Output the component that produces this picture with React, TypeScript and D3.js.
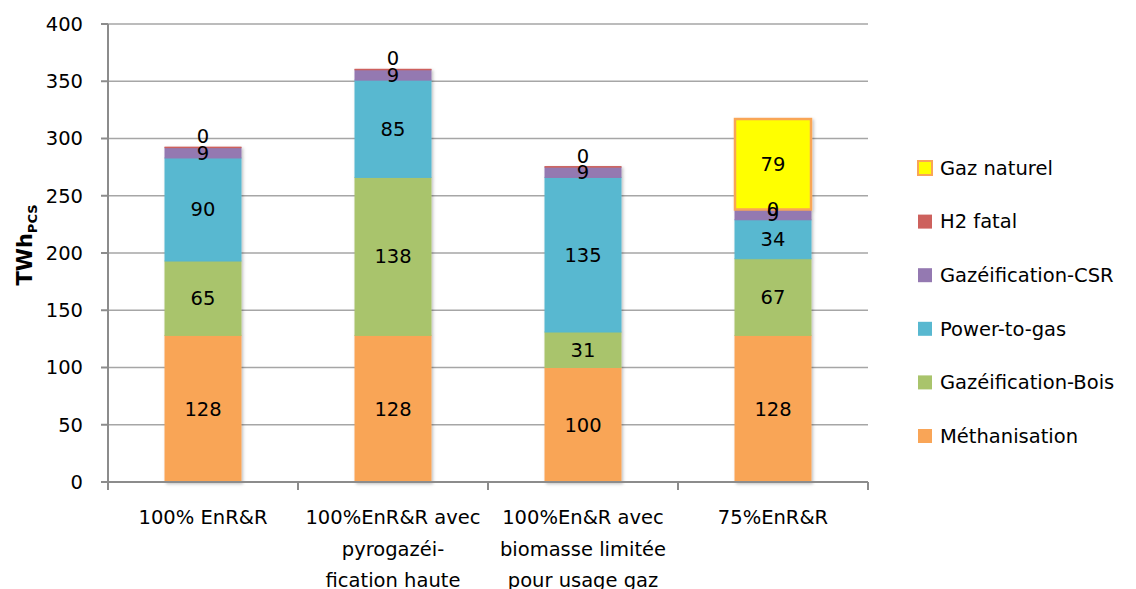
import { useEffect, useRef } from "react";
import * as d3 from "d3";

const scenarios = [
  ["100% EnR&R"],
  ["100%EnR&R avec", "pyrogazéi-", "fication haute"],
  ["100%En&R avec", "biomasse limitée", "pour usage gaz"],
  ["75%EnR&R"],
];
const methanisation = [128, 128, 100, 128];
const gazBois = [65, 138, 31, 67];
const powerToGas = [90, 85, 135, 34];
const gazCSR = [9, 9, 9, 9];
const h2Fatal = [0.45, 0.45, 0.45, 0];
const gazNaturel = [0, 0, 0, 79];
const yTicks = [0, 50, 100, 150, 200, 250, 300, 350, 400];

const SERIES = [
  { name: "Méthanisation", values: methanisation, fill: "#F9A557", stroke: "none" },
  { name: "Gazéification-Bois", values: gazBois, fill: "#A9C46C", stroke: "none" },
  { name: "Power-to-gas", values: powerToGas, fill: "#58B8D0", stroke: "none" },
  { name: "Gazéification-CSR", values: gazCSR, fill: "#9479B1", stroke: "none" },
  { name: "H2 fatal", values: h2Fatal, fill: "#CD615D", stroke: "none" },
  { name: "Gaz naturel", values: gazNaturel, fill: "#FFFF00", stroke: "#F9A557" },
];

const FONT = "'DejaVu Sans', sans-serif";
const FS = 19.5;
const W = 1136, H = 589;
const M = { left: 108, right: 268, top: 24, bottom: 107 };

export default function App() {
  const ref = useRef<SVGSVGElement>(null);

  useEffect(() => {
    const svg = d3.select(ref.current!);
    svg.selectAll("*").remove();
    const cw = W - M.left - M.right, ch = H - M.top - M.bottom;

    const defs = svg.append("defs");
    defs.append("filter").attr("id", "shadow").attr("x", "-10%").attr("y", "-10%")
      .attr("width", "130%").attr("height", "130%")
      .append("feDropShadow").attr("dx", 1.5).attr("dy", 1.5).attr("stdDeviation", 1.5)
      .attr("flood-color", "#000").attr("flood-opacity", 0.25);

    const g = svg.append("g").attr("transform", `translate(${M.left},${M.top})`);

    const keys = scenarios.map((_, i) => String(i));
    const x = d3.scaleBand().domain(keys).range([0, cw]).paddingInner(0).paddingOuter(0);
    const y = d3.scaleLinear().domain([0, 400]).range([ch, 0]);
    const bw = x.bandwidth() * 0.4;

    // gridlines
    g.append("g").selectAll("line").data(yTicks.filter(t => t > 0)).join("line")
      .attr("x1", 0).attr("x2", cw).attr("y1", d => y(d)).attr("y2", d => y(d))
      .attr("stroke", "#A6A6A6").attr("stroke-width", 1.5);

    // stacks
    const rows = keys.map((k, i) => {
      const r: Record<string, number | string> = { key: k };
      SERIES.forEach(s => (r[s.name] = s.values[i]));
      return r;
    });
    const stack = d3.stack<Record<string, number | string>>().keys(SERIES.map(s => s.name))
      .value((d, key) => d[key] as number);
    const layers = stack(rows);

    const bars = g.append("g").attr("filter", "url(#shadow)");
    layers.forEach((layer, li) => {
      const s = SERIES[li];
      layer.forEach((seg, i) => {
        const v = s.values[i];
        if (s.name === "Gaz naturel" && v === 0) return;
        const x0 = x(keys[i])! + (x.bandwidth() - bw) / 2;
        bars.append("rect")
          .attr("x", x0).attr("width", bw)
          .attr("y", y(seg[1])).attr("height", Math.max(0, y(seg[0]) - y(seg[1])))
          .attr("fill", s.fill)
          .attr("stroke", s.stroke === "none" ? (v > 0 ? s.fill : "none") : s.stroke)
          .attr("stroke-width", s.stroke === "none" ? 1 : 2.5);
      });
    });

    // value labels
    layers.forEach((layer, li) => {
      const s = SERIES[li];
      layer.forEach((seg, i) => {
        const v = s.values[i];
        if (s.name === "Gaz naturel" && v === 0) return;
        let cy = (y(seg[0]) + y(seg[1])) / 2;
        if (s.name === "H2 fatal" && v > 0) cy -= 11;
        g.append("text")
          .attr("x", x(keys[i])! + x.bandwidth() / 2).attr("y", cy)
          .attr("dy", "0.35em").attr("text-anchor", "middle")
          .attr("font-family", FONT).attr("font-size", FS).attr("fill", "#000")
          .text(Math.round(v));
      });
    });

    // axes
    g.append("line").attr("x1", 0).attr("x2", 0).attr("y1", 0).attr("y2", ch + 8)
      .attr("stroke", "#8C8C8C").attr("stroke-width", 2);
    g.append("line").attr("x1", -7).attr("x2", cw).attr("y1", ch).attr("y2", ch)
      .attr("stroke", "#8C8C8C").attr("stroke-width", 2);
    g.append("g").selectAll("line").data(yTicks).join("line")
      .attr("x1", -7).attr("x2", 0).attr("y1", d => y(d)).attr("y2", d => y(d))
      .attr("stroke", "#8C8C8C").attr("stroke-width", 2);
    g.append("g").selectAll("line").data(d3.range(scenarios.length + 1)).join("line")
      .attr("x1", d => d * x.bandwidth()).attr("x2", d => d * x.bandwidth())
      .attr("y1", ch).attr("y2", ch + 8)
      .attr("stroke", "#8C8C8C").attr("stroke-width", 2);

    g.append("g").selectAll("text").data(yTicks).join("text")
      .attr("x", -25).attr("y", d => y(d)).attr("dy", "0.35em").attr("text-anchor", "end")
      .attr("font-family", FONT).attr("font-size", FS).attr("fill", "#000")
      .text(d => d);

    scenarios.forEach((lines, i) => {
      const t = g.append("text").attr("text-anchor", "middle")
        .attr("font-family", FONT).attr("font-size", FS).attr("fill", "#000");
      lines.forEach((ln, j) => {
        t.append("tspan").attr("x", x(keys[i])! + x.bandwidth() / 2)
          .attr("y", ch + 42 + j * 31.5).text(ln);
      });
    });

    // y title
    const yt = svg.append("text").attr("transform", `translate(32,245) rotate(-90)`)
      .attr("text-anchor", "middle").attr("font-family", FONT).attr("font-weight", 700)
      .attr("font-size", 21).attr("fill", "#000");
    yt.append("tspan").text("TWh");
    yt.append("tspan").attr("font-size", 13).attr("dy", 5).text("PCS");

    // legend
    const legend = [...SERIES].reverse();
    const lg = svg.append("g").attr("transform", "translate(918,168)");
    legend.forEach((s, i) => {
      const row = lg.append("g").attr("transform", `translate(0,${i * 53.6})`);
      row.append("rect").attr("x", 0).attr("y", -7).attr("width", 14).attr("height", 14)
        .attr("fill", s.fill)
        .attr("stroke", s.stroke === "none" ? "none" : s.stroke).attr("stroke-width", 2);
      row.append("text").attr("x", 22).attr("y", 0).attr("dy", "0.35em")
        .attr("font-family", FONT).attr("font-size", FS).attr("fill", "#000").text(s.name);
    });
  }, []);

  return (
    <svg ref={ref} width={W} height={H}
      style={{ position: "absolute", left: 0, top: 0, background: "#fff" }} />
  );
}
